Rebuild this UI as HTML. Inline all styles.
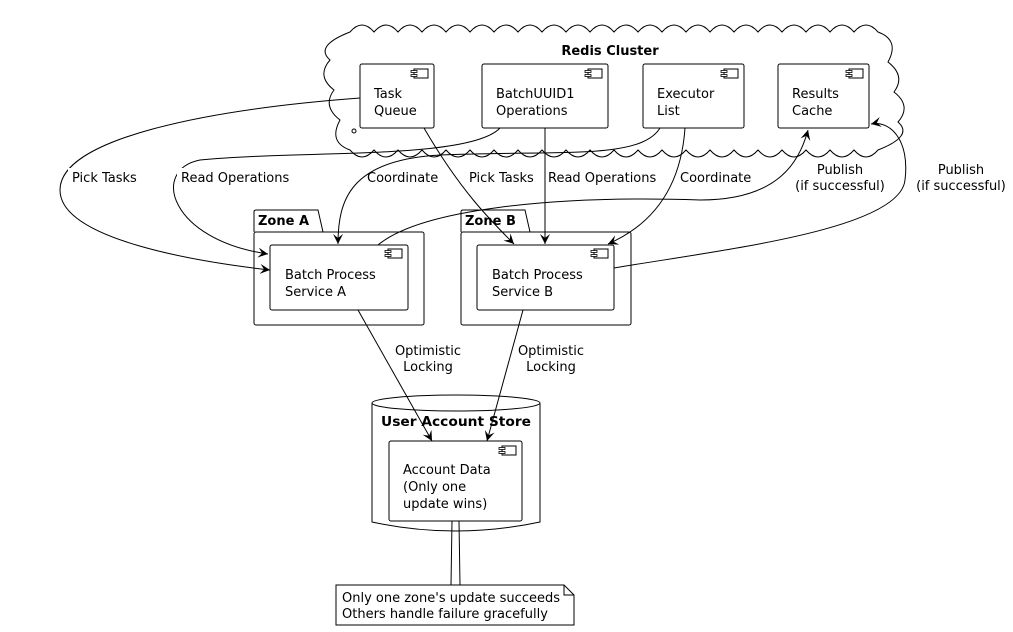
<!DOCTYPE html>
<html><head><meta charset="utf-8"><style>
html,body{margin:0;padding:0;background:#fff;width:1013px;height:632px;overflow:hidden}
text{font-family:"DejaVu Sans","Liberation Sans",sans-serif;font-size:13px;fill:#000}
.b{font-weight:bold}
</style></head><body>
<svg width="1013" height="632" viewBox="0 0 1013 632" xmlns="http://www.w3.org/2000/svg">
<defs>
<marker id="a" markerWidth="12" markerHeight="10" refX="10" refY="5" orient="auto" markerUnits="userSpaceOnUse">
<path d="M0,0 L10,5 L0,10 L4,5 Z" fill="#000"/></marker>
<g id="ci"><rect x="0" y="0" width="14" height="9" fill="#fff" stroke="#000"/><rect x="-3" y="1.5" width="6" height="2" fill="#fff" stroke="#000" stroke-width="0.8"/><rect x="-3" y="5.5" width="6" height="2" fill="#fff" stroke="#000" stroke-width="0.8"/></g>
</defs>
<!-- cloud -->
<path d="M350,32 q12,-14 24,0 q12,-14 24,0 q12,-14 24,0 q12,-14 24,0 q12,-14 24,0 q12,-14 24,0 q12,-14 24,0 q12,-14 24,0 q12,-14 24,0 q12,-14 24,0 q12,-14 24,0 q12,-14 24,0 q12,-14 24,0 q12,-14 24,0 q12,-14 24,0 q12,-14 24,0 q12,-14 24,0 q12,-14 24,0 q12,-14 24,0 q12,-14 24,0 q12,-14 24,0 q12,-14 24,0
q22,8 10,30 q18,14 6,30 q18,14 4,30 q16,14 -20,28
q-12,14 -24,0 q-12,14 -24,0 q-12,14 -24,0 q-12,14 -24,0 q-12,14 -24,0 q-12,14 -24,0 q-12,14 -24,0 q-12,14 -24,0 q-12,14 -24,0 q-12,14 -24,0 q-12,14 -24,0 q-12,14 -24,0 q-12,14 -24,0 q-12,14 -24,0 q-12,14 -24,0 q-12,14 -24,0 q-12,14 -24,0 q-12,14 -24,0 q-12,14 -24,0 q-12,14 -24,0 q-12,14 -24,0 q-12,14 -24,0
q-22,-8 -10,-30 q-18,-14 -6,-30 q-18,-14 -4,-30 q-16,-14 20,-28 Z" fill="#fff" stroke="#000"/>
<text x="610" y="55" class="b" text-anchor="middle">Redis Cluster</text>
<!-- redis components -->
<g fill="#fff" stroke="#000">
<rect x="360" y="64" width="74" height="64" rx="2"/>
<rect x="482" y="64" width="126" height="64" rx="2"/>
<rect x="643" y="64" width="101" height="64" rx="2"/>
<rect x="778" y="64" width="91" height="64" rx="2"/>
</g>
<use href="#ci" x="414" y="69"/><use href="#ci" x="588" y="69"/><use href="#ci" x="724" y="69"/><use href="#ci" x="849" y="69"/>
<text x="374" y="98">Task</text><text x="374" y="115">Queue</text>
<text x="496" y="98">BatchUUID1</text><text x="496" y="115">Operations</text>
<text x="657" y="98">Executor</text><text x="657" y="115">List</text>
<text x="792" y="98">Results</text><text x="792" y="115">Cache</text>
<!-- zones -->
<g fill="#fff" stroke="#000">
<path d="M254,232 V212 q0,-2 2,-2 H318 l5,22"/>
<rect x="254" y="232" width="170" height="93" rx="2"/>
<path d="M461,232 V212 q0,-2 2,-2 H525 l5,22"/>
<rect x="461" y="232" width="170" height="93" rx="2"/>
<rect x="270" y="245" width="138" height="65" rx="2"/>
<rect x="477" y="245" width="137" height="65" rx="2"/>
</g>
<text x="258" y="225" class="b">Zone A</text><text x="465" y="225" class="b">Zone B</text>
<use href="#ci" x="388" y="249"/><use href="#ci" x="594" y="249"/>
<text x="285" y="279">Batch Process</text><text x="285" y="296">Service A</text>
<text x="492" y="279">Batch Process</text><text x="492" y="296">Service B</text>
<!-- cylinder -->
<path d="M372,403 V522 q84,18 168,0 V403" fill="#fff" stroke="#000"/>
<ellipse cx="456" cy="403" rx="84" ry="8" fill="#fff" stroke="#000"/>
<text x="456" y="426" class="b" text-anchor="middle" textLength="150" lengthAdjust="spacingAndGlyphs">User Account Store</text>
<rect x="389" y="441" width="133" height="80" rx="2" fill="#fff" stroke="#000"/>
<use href="#ci" x="502" y="446"/>
<text x="403" y="474">Account Data</text><text x="403" y="491">(Only one</text><text x="403" y="508">update wins)</text>
<!-- note -->
<path d="M452,521 L451,585 M459,521 L460,585" stroke="#000" fill="none"/>
<path d="M336,585 H564 L574,595 V625 H336 Z" fill="#fff" stroke="#000"/>
<path d="M564,585 V595 H574" fill="none" stroke="#000"/>
<text x="342" y="602">Only one zone's update succeeds</text>
<text x="342" y="618">Others handle failure gracefully</text>
<!-- edges -->
<g fill="none" stroke="#000" marker-end="url(#a)">
<path d="M360,98 C200,110 60,140 60,190 C60,240 200,262 270,270"/>
<path d="M500,128 C470,160 300,150 200,160 C150,170 170,240 268,254"/>
<path d="M660,128 C640,160 560,150 440,155 C350,160 338,200 338,244"/>
<path d="M424,128 C460,190 490,220 514,244"/>
<path d="M545,128 V244"/>
<path d="M685,128 C680,200 640,230 608,244"/>
<path d="M378,245 C420,210 550,195 700,200 C780,200 800,160 808,130"/>
<path d="M614,268 C720,250 900,230 905,180 C910,140 890,120 871,124"/>
<path d="M358,310 L432,441"/>
<path d="M523,310 L487,441"/>
</g>
<circle cx="354" cy="131" r="2" fill="#fff" stroke="#000"/>
<!-- labels -->
<g>
<rect x="68" y="168" width="74" height="16" fill="#fff"/>
<text x="72" y="182">Pick Tasks</text>
<rect x="177" y="168" width="115" height="16" fill="#fff"/>
<text x="181" y="182">Read Operations</text>
<text x="367" y="182">Coordinate</text>
<text x="469" y="182">Pick Tasks</text>
<text x="548" y="182">Read Operations</text>
<text x="680" y="182">Coordinate</text>
<text x="840" y="174" text-anchor="middle">Publish</text><text x="840" y="190" text-anchor="middle">(if successful)</text>
<text x="961" y="174" text-anchor="middle">Publish</text><text x="961" y="190" text-anchor="middle">(if successful)</text>
<text x="428" y="355" text-anchor="middle">Optimistic</text><text x="428" y="371" text-anchor="middle">Locking</text>
<text x="551" y="355" text-anchor="middle">Optimistic</text><text x="551" y="371" text-anchor="middle">Locking</text>
</g>
</svg>
</body></html>
